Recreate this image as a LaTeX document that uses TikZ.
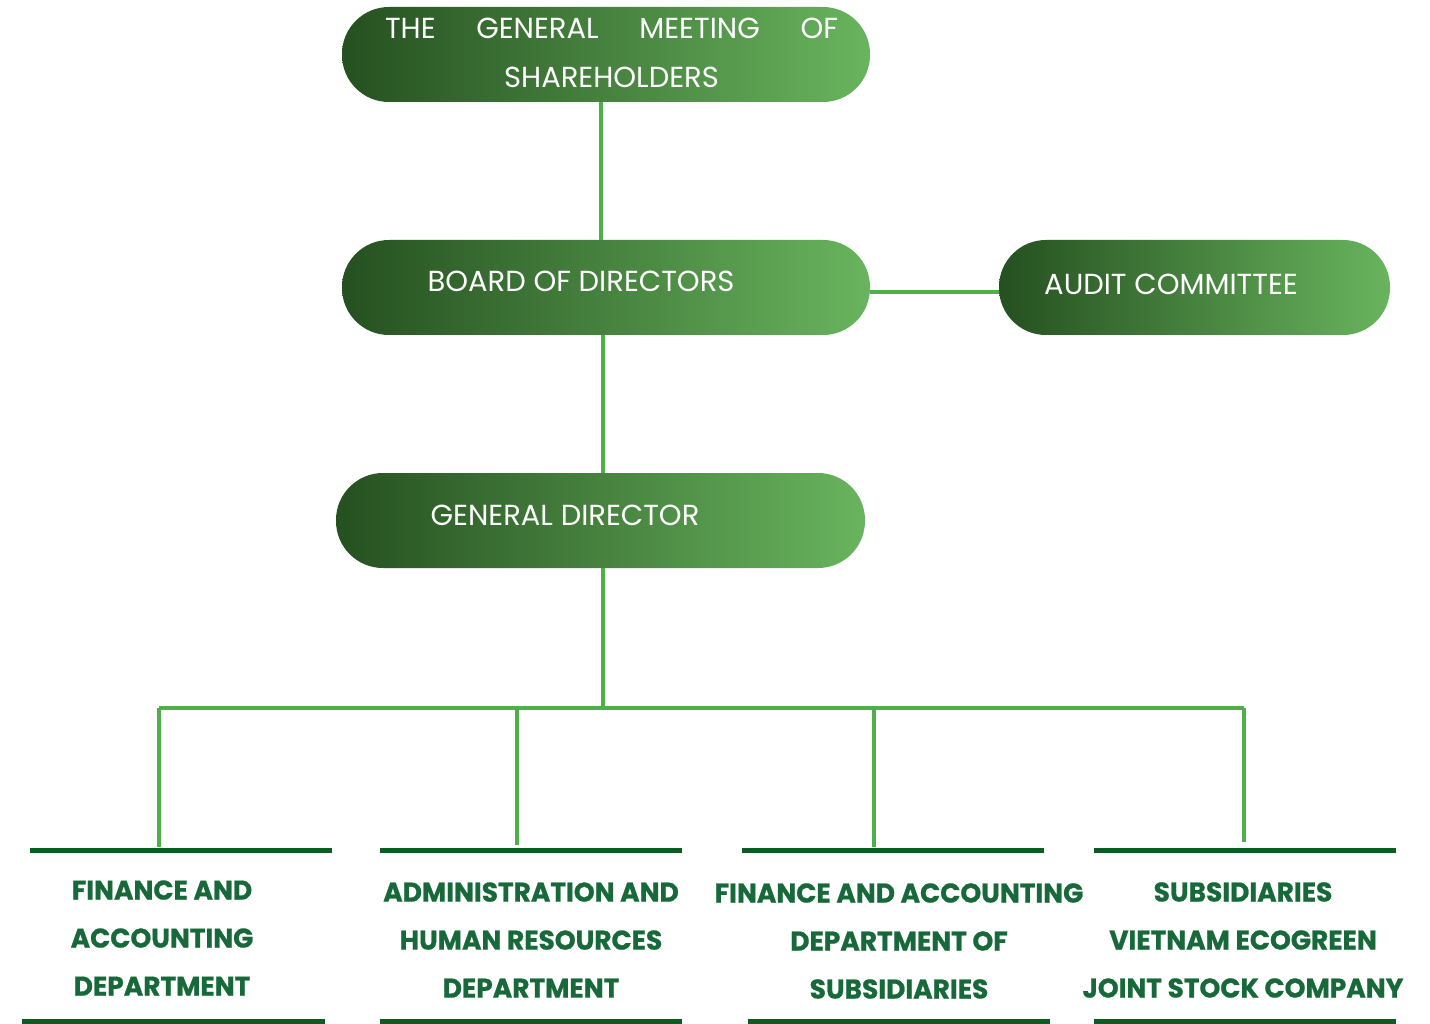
\documentclass[tikz,border=0pt]{standalone}
\usepackage{fontspec}
\setmainfont{Poppins}
\newfontfamily\deptfont[FakeStretch=0.98,BoldFeatures={FakeBold=0.8}]{Poppins}
\definecolor{gdark}{HTML}{255020}
\definecolor{glight}{HTML}{69B45E}
\definecolor{linkgreen}{HTML}{4FB04A}
\definecolor{bargreen}{HTML}{0C5C24}
\definecolor{depttext}{HTML}{17693A}
\begin{document}
\begin{tikzpicture}[x=1pt,y=-1pt,
  pill/.style={rounded corners=47pt, minimum width=#1, minimum height=95pt,
    inner sep=0pt, left color=gdark, right color=glight, draw=none},
  wtext/.style={text=white, inner sep=0pt, align=center,
    font={\fontsize{29pt}{49pt}\selectfont}},
  dept/.style={text=depttext, inner sep=0pt, align=center,
    font={\deptfont\bfseries\fontsize{27pt}{48pt}\selectfont}},
  link/.style={draw=linkgreen, line width=4pt},
  bar/.style={fill=bargreen, minimum height=5pt, minimum width=302pt, inner sep=0pt}]
\useasboundingbox[fill=white] (0,0) rectangle (1430,1024);

% management boxes
\node[pill=528pt] (gms) at (606,54.5) {};
\node[pill=528pt] (bod) at (606,287.5) {};
\node[pill=391pt] (audit) at (1194.5,287.5) {};
\node[pill=529pt] (gd) at (600.5,520.5) {};

\node[wtext] (gms-t) at (611.5,52.5)
  {\makebox[453pt][s]{THE\hfill GENERAL\hfill MEETING\hfill OF}\\SHAREHOLDERS};
\node[wtext] (bod-t) at (581,281) {BOARD OF DIRECTORS};
\node[wtext] (audit-t) at (1171,284) {AUDIT COMMITTEE};
\node[wtext] (gd-t) at (565,515) {GENERAL DIRECTOR};

% connectors between the boxes
\draw[link] (gms.south -| 601,0) -- (bod.north -| 601,0);
\draw[link] (bod.east |- 0,292) -- (audit.west |- 0,292);
\draw[link] (bod.south -| 603,0) -- (gd.north -| 603,0);

% department bars
\node[bar] (t1) at (181,850) {};
\node[bar] (t2) at (530.5,850) {};
\node[bar] (t3) at (893,850) {};
\node[bar] (t4) at (1244.5,850) {};
\node[bar, minimum width=303pt] (u1) at (173.5,1021) {};
\node[bar] (u2) at (530.5,1021) {};
\node[bar] (u3) at (899,1021) {};
\node[bar] (u4) at (1244.5,1021) {};

% tree from the general director to the departments
\coordinate (bus) at (603,708);
\coordinate (d1) at (159,708);
\coordinate (d2) at (517,708);
\coordinate (d3) at (874,708);
\coordinate (d4) at (1244,708);
\draw[link] (gd.south -| bus) -- (bus);
\draw[link] (d1) -- (d4);
\draw[link] (d1) -- (d1 |- t1.north);
\draw[link] (d2) -- (d2 |- 0,845);
\draw[link] (d3) -- (d3 |- t3.north);
\draw[link] (d4) -- (d4 |- 0,842);

% department names
\node[dept] (n1) at (162,938) {FINANCE AND\\ACCOUNTING\\DEPARTMENT};
\node[dept] (n2) at (531,940) {ADMINISTRATION AND\\HUMAN RESOURCES\\DEPARTMENT};
\node[dept] (n3) at (899,941) {FINANCE AND ACCOUNTING\\DEPARTMENT OF\\SUBSIDIARIES};
\node[dept] (n4) at (1243,940) {SUBSIDIARIES\\VIETNAM ECOGREEN\\JOINT STOCK COMPANY};
\end{tikzpicture}
\end{document}
